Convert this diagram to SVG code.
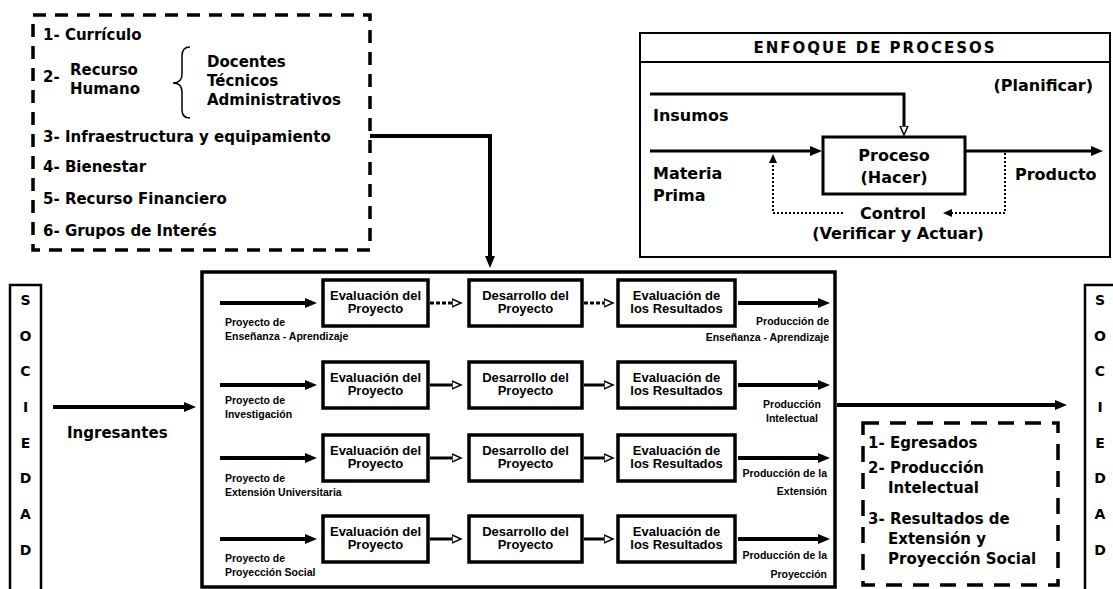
<svg xmlns="http://www.w3.org/2000/svg" width="1113" height="589" viewBox="0 0 1113 589">
<defs>
<style>
.t15{font-family:"DejaVu Sans",sans-serif;font-weight:bold;font-size:15px;fill:#000}
.t16{font-family:"DejaVu Sans",sans-serif;font-weight:bold;font-size:16px;fill:#000}
.t14{font-family:"DejaVu Sans",sans-serif;font-weight:bold;font-size:14px;fill:#000;text-anchor:middle}
.b13{font-family:"Liberation Sans",Arial,sans-serif;font-weight:bold;font-size:13px;fill:#000;text-anchor:middle}
.s10{font-family:"Liberation Sans",Arial,sans-serif;font-weight:bold;font-size:10.5px;fill:#000}
.end{text-anchor:end}
.mid{text-anchor:middle}
.dash{fill:none;stroke:#000;stroke-width:3.5;stroke-dasharray:13 9}
.box{fill:#fff;stroke:#000;stroke-width:3.5}
.thin{fill:#fff;stroke:#000;stroke-width:2}
.ln{fill:none;stroke:#000;stroke-width:4}
.ln3{fill:none;stroke:#000;stroke-width:3}
.dot{fill:none;stroke:#000;stroke-width:2;stroke-dasharray:2 2}
</style>
<marker id="af" markerUnits="userSpaceOnUse" markerWidth="12" markerHeight="10" refX="2" refY="5" orient="auto">
<path d="M0,0 L12,5 L0,10 z" fill="#000"/>
</marker>
<marker id="ah" markerUnits="userSpaceOnUse" markerWidth="12" markerHeight="12" refX="0.5" refY="5" orient="auto">
<path d="M0.5,1 L9.5,5 L0.5,9 z" fill="#fff" stroke="#000" stroke-width="1.5"/>
</marker>
<marker id="as" markerUnits="userSpaceOnUse" markerWidth="9" markerHeight="8" refX="1" refY="4" orient="auto">
<path d="M0,0 L9,4 L0,8 z" fill="#000"/>
</marker>
</defs>
<rect width="1113" height="589" fill="#fff"/>

<g id="recursos">
<rect class="dash" x="33" y="15" width="337" height="235"/>
<text class="t15" x="43" y="40">1- Currículo</text>
<text class="t15" x="43" y="82">2-</text>
<text class="t15" x="70" y="75">Recurso</text>
<text class="t15" x="70" y="94">Humano</text>
<path d="M190,47 Q182,47 182,56 L182,74 Q182,83 173,83 Q182,83 182,92 L182,110 Q182,118 190,118" fill="none" stroke="#000" stroke-width="1.5"/>
<text class="t15" x="207" y="67">Docentes</text>
<text class="t15" x="207" y="86">Técnicos</text>
<text class="t15" x="207" y="105">Administrativos</text>
<text class="t15" x="43" y="142">3- Infraestructura y equipamiento</text>
<text class="t15" x="43" y="172">4- Bienestar</text>
<text class="t15" x="43" y="204">5- Recurso Financiero</text>
<text class="t15" x="43" y="236">6- Grupos de Interés</text>
</g>

<g id="enfoque">
<rect class="thin" x="640" y="33" width="470" height="224"/>
<line x1="640" y1="62" x2="1110" y2="62" stroke="#000" stroke-width="2"/>
<text class="t15 mid" x="875" y="53" style="letter-spacing:2px">ENFOQUE DE PROCESOS</text>
<text class="t16 end" x="1093" y="91">(Planificar)</text>
<text class="t16" x="653" y="121">Insumos</text>
<text class="t16" x="653" y="179">Materia</text>
<text class="t16" x="653" y="201">Prima</text>
<text class="t16" x="1015" y="180">Producto</text>
<text class="t16 mid" x="893" y="219">Control</text>
<text class="t16 mid" x="898" y="239">(Verificar y Actuar)</text>
</g>

<g id="proceso">
<rect x="823" y="137" width="142" height="57" fill="#fff" stroke="#000" stroke-width="3"/>
<text class="t16 mid" x="894" y="161">Proceso</text>
<text class="t16 mid" x="894" y="183">(Hacer)</text>
</g>

<g id="sociedad-izq">
<rect x="10" y="285" width="31" height="320" fill="#fff" stroke="#000" stroke-width="2.5"/>
<text class="t14" x="25.5" y="305">S</text>
<text class="t14" x="25.5" y="341">O</text>
<text class="t14" x="25.5" y="376">C</text>
<text class="t14" x="25.5" y="412">I</text>
<text class="t14" x="25.5" y="448">E</text>
<text class="t14" x="25.5" y="483">D</text>
<text class="t14" x="25.5" y="519">A</text>
<text class="t14" x="25.5" y="555">D</text>
</g>

<g id="sociedad-der">
<rect x="1085" y="285" width="40" height="320" fill="#fff" stroke="#000" stroke-width="2.5"/>
<text class="t14" x="1100" y="305">S</text>
<text class="t14" x="1100" y="341">O</text>
<text class="t14" x="1100" y="376">C</text>
<text class="t14" x="1100" y="412">I</text>
<text class="t14" x="1100" y="448">E</text>
<text class="t14" x="1100" y="483">D</text>
<text class="t14" x="1100" y="519">A</text>
<text class="t14" x="1100" y="555">D</text>
</g>

<g id="universidad">
<rect x="202" y="272" width="633" height="315" fill="#fff" stroke="#000" stroke-width="3.5"/>
</g>

<g id="fila1">
<rect class="box" x="323" y="280" width="105" height="46"/>
<text class="b13" x="375.5" y="299.5">Evaluación del</text>
<text class="b13" x="375.5" y="313">Proyecto</text>
<rect class="box" x="469" y="280" width="113" height="46"/>
<text class="b13" x="525.5" y="299.5">Desarrollo del</text>
<text class="b13" x="525.5" y="313">Proyecto</text>
<rect class="box" x="618" y="280" width="117" height="46"/>
<text class="b13" x="676.5" y="299.5">Evaluación de</text>
<text class="b13" x="676.5" y="313">los Resultados</text>
<text class="s10" x="225" y="325.5">Proyecto de</text>
<text class="s10" x="225" y="339.5">Enseñanza - Aprendizaje</text>
<text class="s10 end" x="829" y="324.5">Producción de</text>
<text class="s10 end" x="829" y="340.5">Enseñanza - Aprendizaje</text>
</g>

<g id="fila2">
<rect class="box" x="323" y="362" width="105" height="46"/>
<text class="b13" x="375.5" y="381.5">Evaluación del</text>
<text class="b13" x="375.5" y="395">Proyecto</text>
<rect class="box" x="469" y="362" width="113" height="46"/>
<text class="b13" x="525.5" y="381.5">Desarrollo del</text>
<text class="b13" x="525.5" y="395">Proyecto</text>
<rect class="box" x="618" y="362" width="117" height="46"/>
<text class="b13" x="676.5" y="381.5">Evaluación de</text>
<text class="b13" x="676.5" y="395">los Resultados</text>
<text class="s10" x="225" y="404">Proyecto de</text>
<text class="s10" x="225" y="418">Investigación</text>
<text class="s10 mid" x="792" y="408">Producción</text>
<text class="s10 mid" x="792" y="422">Intelectual</text>
</g>

<g id="fila3">
<rect class="box" x="323" y="435" width="105" height="46"/>
<text class="b13" x="375.5" y="454.5">Evaluación del</text>
<text class="b13" x="375.5" y="468">Proyecto</text>
<rect class="box" x="469" y="435" width="113" height="46"/>
<text class="b13" x="525.5" y="454.5">Desarrollo del</text>
<text class="b13" x="525.5" y="468">Proyecto</text>
<rect class="box" x="618" y="435" width="117" height="46"/>
<text class="b13" x="676.5" y="454.5">Evaluación de</text>
<text class="b13" x="676.5" y="468">los Resultados</text>
<text class="s10" x="225" y="481.5">Proyecto de</text>
<text class="s10" x="225" y="495.5">Extensión Universitaria</text>
<text class="s10 end" x="827" y="477">Producción de la</text>
<text class="s10 end" x="827" y="494.5">Extensión</text>
</g>

<g id="fila4">
<rect class="box" x="323" y="516" width="105" height="46"/>
<text class="b13" x="375.5" y="535.5">Evaluación del</text>
<text class="b13" x="375.5" y="549">Proyecto</text>
<rect class="box" x="469" y="516" width="113" height="46"/>
<text class="b13" x="525.5" y="535.5">Desarrollo del</text>
<text class="b13" x="525.5" y="549">Proyecto</text>
<rect class="box" x="618" y="516" width="117" height="46"/>
<text class="b13" x="676.5" y="535.5">Evaluación de</text>
<text class="b13" x="676.5" y="549">los Resultados</text>
<text class="s10" x="225" y="561.5">Proyecto de</text>
<text class="s10" x="225" y="575.5">Proyección Social</text>
<text class="s10 end" x="827" y="559">Producción de la</text>
<text class="s10 end" x="827" y="577.5">Proyección</text>
</g>

<g id="resultados">
<rect class="dash" x="863" y="423" width="195" height="162" style="stroke-dasharray:16 11"/>
<text class="t15" x="868" y="447.5">1- Egresados</text>
<text class="t15" x="868" y="472.5">2- Producción</text>
<text class="t15" x="888" y="492.5">Intelectual</text>
<text class="t15" x="868" y="523.5">3- Resultados de</text>
<text class="t15" x="888" y="543.5">Extensión y</text>
<text class="t15" x="888" y="563.5">Proyección Social</text>
</g>

<g id="ingresantes-label">
<text class="t15" x="67" y="438">Ingresantes</text>
</g>

<g id="conectores">
<path class="ln" d="M370,136 H490 V258" marker-end="url(#af)"/>
<path class="ln" d="M53,407 H186" marker-end="url(#af)"/>
<path class="ln" d="M837,405 H1057" marker-end="url(#af)"/>

<path class="ln" d="M220,303 H307" marker-end="url(#af)"/>
<path class="ln" d="M220,385 H307" marker-end="url(#af)"/>
<path class="ln" d="M220,458 H307" marker-end="url(#af)"/>
<path class="ln" d="M220,539 H307" marker-end="url(#af)"/>

<path class="ln" d="M738,303 H820" marker-end="url(#af)"/>
<path class="ln" d="M738,385 H820" marker-end="url(#af)"/>
<path class="ln" d="M738,458 H820" marker-end="url(#af)"/>
<path class="ln" d="M738,539 H820" marker-end="url(#af)"/>

<path class="ln3" d="M430,303 H452" style="stroke-dasharray:4 2" marker-end="url(#ah)"/>
<path class="ln3" d="M584,303 H604" style="stroke-dasharray:4 2" marker-end="url(#ah)"/>
<path class="ln3" d="M430,385 H452" marker-end="url(#ah)"/>
<path class="ln3" d="M584,385 H604" marker-end="url(#ah)"/>
<path class="ln3" d="M430,458 H452" marker-end="url(#ah)"/>
<path class="ln3" d="M584,458 H604" marker-end="url(#ah)"/>
<path class="ln3" d="M430,539 H452" marker-end="url(#ah)"/>
<path class="ln3" d="M584,539 H604" marker-end="url(#ah)"/>

<path class="ln3" d="M650,94 H904 V126" marker-end="url(#ah)"/>
<path class="ln3" d="M650,151 H812" marker-end="url(#af)"/>
<path class="ln3" d="M965,151 H1093" marker-end="url(#af)"/>
<path class="dot" d="M1005,153 V213 H951" marker-end="url(#as)"/>
<path class="dot" d="M843,213 H773 V162" marker-end="url(#as)"/>
</g>
</svg>
